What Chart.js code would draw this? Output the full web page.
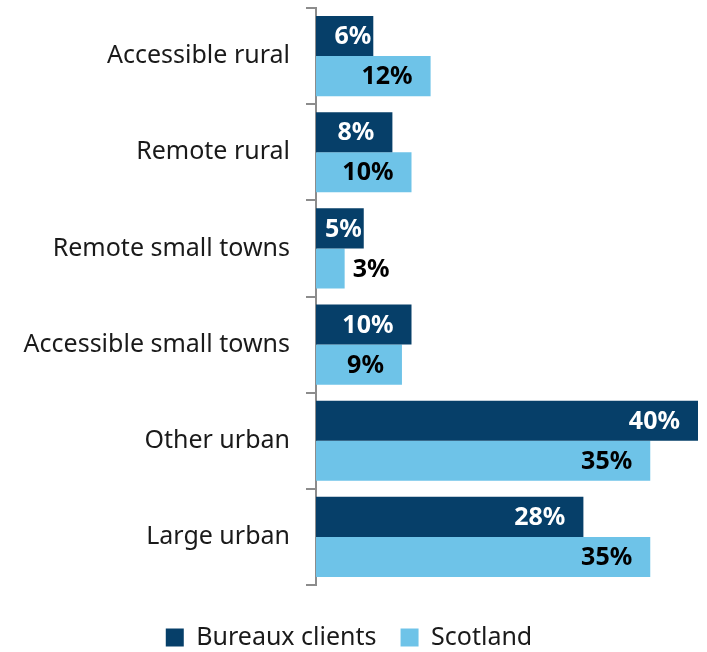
<!DOCTYPE html>
<html>
<head>
<meta charset="utf-8">
<script src="https://cdn.jsdelivr.net/npm/chart.js@4/dist/chart.umd.min.js"></script>
<style>
  html, body { margin: 0; padding: 0; background: #fff; }
  #wrap { width: 707px; height: 652px; }
</style>
</head>
<body>
<div id="wrap"><canvas id="myChart"></canvas></div>
<script>
// Dữ liệu biểu đồ
const categories = ["Accessible rural", "Remote rural", "Remote small towns", "Accessible small towns", "Other urban", "Large urban"];
const bureauxClients = [6, 8, 5, 10, 40, 28];
const scotland = [12, 10, 3, 9, 35, 35];
const seriesNames = ["Bureaux clients", "Scotland"];
const seriesColors = ["#063f69", "#6ec3e8"];
const labelColors = ["#ffffff", "#000000"];

const FONT = "'Noto Sans', sans-serif";

// Plugin vẽ nhãn giá trị trên thanh
const barLabels = {
  id: "barLabels",
  afterDatasetsDraw(chart) {
    const ctx = chart.ctx;
    const left = chart.chartArea.left;
    ctx.save();
    ctx.font = "bold 25px " + FONT;
    ctx.textBaseline = "middle";
    ctx.textAlign = "left";
    chart.data.datasets.forEach((ds, i) => {
      chart.getDatasetMeta(i).data.forEach((bar, j) => {
        const text = ds.data[j] + "%";
        const w = ctx.measureText(text).width;
        const barW = bar.x - left;
        let x;
        if (w + 6 > barW) {
          // không vừa trong thanh -> đặt bên ngoài
          x = bar.x + 8;
          ctx.fillStyle = "#000000";
        } else {
          x = bar.x - 18 - w;
          if (x < left + 4) x = Math.max(bar.x - 2 - w, left + 4);
          ctx.fillStyle = labelColors[i];
        }
        ctx.fillText(text, x, bar.y + 1);
      });
    });
    ctx.restore();
  }
};

// Dời chú thích xuống dưới một chút
const legendShift = {
  id: "legendShift",
  afterLayout(chart) {
    const lg = chart.legend;
    if (lg) {
      lg.top += 16;
      lg.bottom += 16;
    }
  }
};

new Chart(document.getElementById("myChart").getContext("2d"), {
  type: "bar",
  data: {
    labels: categories,
    datasets: [
      { label: seriesNames[0], data: bureauxClients, backgroundColor: seriesColors[0] },
      { label: seriesNames[1], data: scotland, backgroundColor: seriesColors[1] }
    ]
  },
  options: {
    indexAxis: "y",
    responsive: true,
    maintainAspectRatio: false,
    animation: false,
    layout: { padding: { top: 8, right: 9, left: 0, bottom: 8 } },
    datasets: { bar: { categoryPercentage: 0.833, barPercentage: 1.0 } },
    scales: {
      x: { display: false, min: 0, max: 40 },
      y: {
        afterFit(scale) {
          scale.width = 316;
          scale.paddingTop = 0;
          scale.paddingBottom = 0;
        },
        grid: { drawOnChartArea: false, color: "#8c8c8c", tickLength: 10, lineWidth: 2 },
        border: { display: true, color: "#8c8c8c", width: 2 },
        ticks: { color: "#1a1a1a", font: { family: FONT, size: 25 }, padding: 16 }
      }
    },
    plugins: {
      legend: {
        position: "bottom",
        labels: {
          color: "#1a1a1a",
          font: { family: FONT, size: 25 },
          boxWidth: 18,
          boxHeight: 18,
          padding: 24
        }
      },
      tooltip: { enabled: false }
    }
  },
  plugins: [barLabels, legendShift]
});
</script>
</body>
</html>
